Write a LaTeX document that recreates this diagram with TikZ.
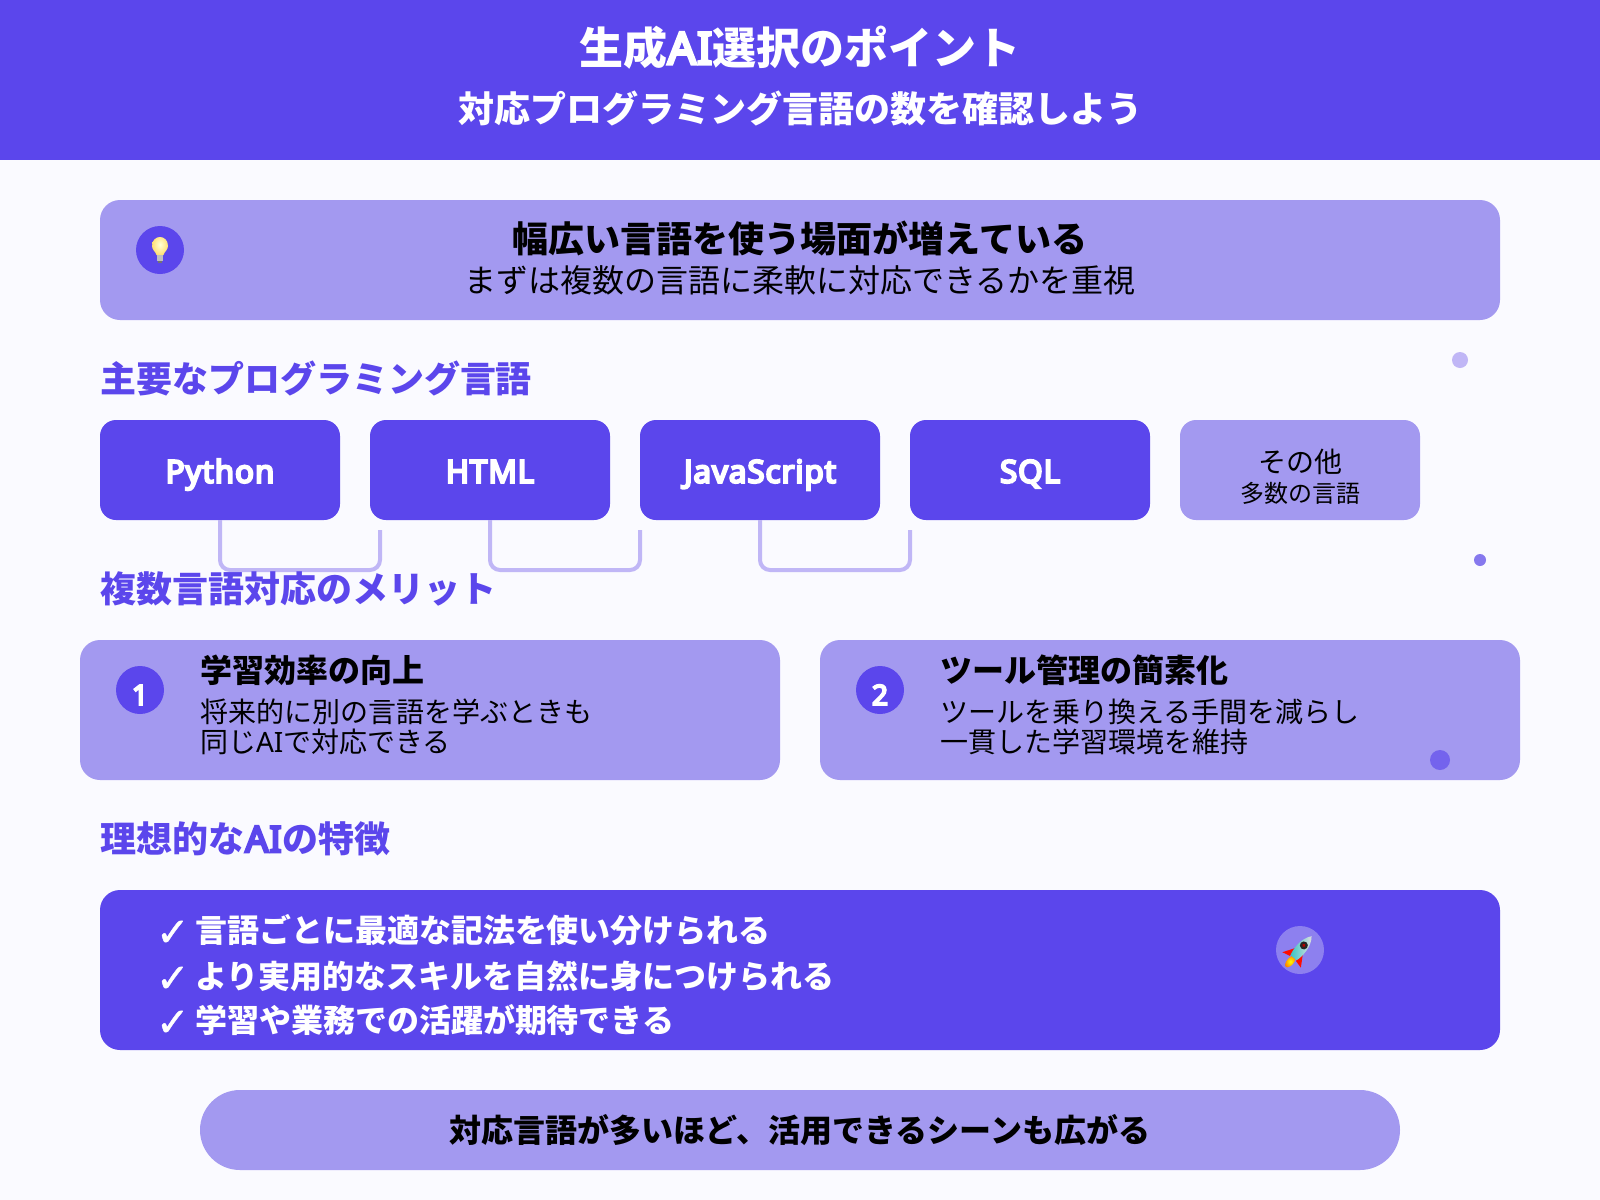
\documentclass[tikz,border=0pt]{standalone}
\usepackage{fontspec}
\setmainfont{Noto Sans CJK JP}
\newfontfamily\lat{Noto Sans}
\newfontfamily\latb[FakeBold=7,LetterSpace=3]{Noto Sans}
\newfontfamily\chk[FakeBold=1.0]{DejaVu Sans}
\usetikzlibrary{calc}
\definecolor{violet}{HTML}{5B46EC}
\definecolor{lilac}{HTML}{A399F0}
\definecolor{paper}{HTML}{FAFAFF}
\definecolor{wire}{HTML}{C0B6F6}
\newcommand{\fz}[1]{\fontsize{#1}{#1}\selectfont}
\newcommand{\tick}{\makebox[26.25pt][l]{\hspace*{-3pt}\raisebox{-3pt}{\fz{30}\mdseries\chk ✓}}}
\tikzset{
  x=0.75pt,y=-0.75pt,
  txt/.style={inner sep=0pt,outer sep=0pt},
  panel/.style={fill=lilac,rounded corners=15pt},
  darkpanel/.style={fill=violet,rounded corners=15pt},
  pill/.style={fill=lilac,rounded corners=30pt},
  chip/.style={fill=violet,rounded corners=12pt,inner sep=0pt,outer sep=0pt,minimum width=180pt,minimum height=75pt,text height=22pt,text depth=3pt,text=white,font=\latb\fz{23.5}},
  softchip/.style={fill=lilac,rounded corners=12pt,inner sep=0pt,outer sep=0pt,minimum width=180pt,minimum height=75pt},
  badge/.style={circle,fill=violet,inner sep=0pt,outer sep=0pt,minimum size=36pt,text height=24pt,text depth=1.5pt,text=white,font=\latb\fz{21}},
  heading/.style={txt,anchor=base west,text=violet,font=\fz{27}\bfseries},
  cardtitle/.style={txt,anchor=base west,font=\fz{24}\bfseries},
  cardbody/.style={txt,anchor=base west,font=\fz{21}},
  ticked/.style={txt,anchor=base west,text=white,font=\fz{24}\bfseries},
  dot/.style={circle,inner sep=0pt,outer sep=0pt,minimum size=#1},
  link/.style={draw=wire,line width=3pt,rounded corners=7.5pt}
}
\begin{document}
\begin{tikzpicture}
\useasboundingbox (0,0) rectangle (1600,1200);
\fill[paper] (0,0) rectangle (1600,1200);
% header
\fill[violet] (0,0) rectangle (1600,160);
\node[txt,text=white,font=\fz{33}\bfseries,anchor=base] (title) at (800,64) {生成{\kern.5pt\latb AI\kern.5pt}選択のポイント};
\node[txt,text=white,font=\fz{27}\bfseries,anchor=base] (subtitle) at (800,122) {対応プログラミング言語の数を確認しよう};
% top panel
\fill[panel] (100,200) rectangle (1500,320);
\node[badge] (tip) at (160,250) {};
\shade[inner color=white!85!yellow,outer color=yellow!55!orange!55!white] (152,246) .. controls (152,234) and (168,234) .. (168,246) .. controls (168,250) and (164,252) .. (163.5,255) -- (156.5,255) .. controls (156,252) and (152,250) .. (152,246) -- cycle;
\fill[gray!50] (157,255) rectangle (163,261);
\fill[gray!90!black] (158,261) rectangle (162,263);
\node[txt,font=\fz{27}\bfseries,anchor=base] (lead) at (800,252) {幅広い言語を使う場面が増えている};
\node[txt,font=\fz{24},anchor=base] (leadsub) at (800,292) {まずは複数の言語に柔軟に対応できるかを重視};
% languages
\node[heading] (h1) at (100,392) {主要なプログラミング言語};
\node[chip] (py) at (220,470) {Python};
\node[chip] (html) at (490,470) {HTML};
\node[chip] (js) at (760,470) {JavaScript};
\node[chip] (sql) at (1030,470) {SQL};
\node[softchip] (other) at (1300,470) {};
\node[txt,font=\fz{21},anchor=base] (other1) at (1300,472) {その他};
\node[txt,font=\fz{18},anchor=base] (other2) at (1300,502) {多数の言語};
\coordinate (e1) at (380,530);
\coordinate (e2) at (640,530);
\coordinate (e3) at (910,530);
\draw[link] (py.south) |- (380,570) -- (e1);
\draw[link] (html.south) |- (640,570) -- (e2);
\draw[link] (js.south) |- (910,570) -- (e3);
% dots
\node[dot=12pt,fill=wire] (d1) at (1460,360) {};
\node[dot=9pt,fill=lilac!60!violet] (d2) at (1480,560) {};
% merits
\node[heading] (h2) at (100,602) {複数言語対応のメリット};
\fill[panel] (80,640) rectangle (780,780);
\fill[panel] (820,640) rectangle (1520,780);
\node[badge] (n1) at (140,690) {1};
\node[badge] (n2) at (880,690) {2};
\node[cardtitle] (c1) at (200,682) {学習効率の向上};
\node[cardbody] (c1a) at (200,722) {将来的に別の言語を学ぶときも};
\node[cardbody] (c1b) at (200,752) {同じ{\lat AI}で対応できる};
\node[cardtitle] (c2) at (940,682) {ツール管理の簡素化};
\node[cardbody] (c2a) at (940,722) {ツールを乗り換える手間を減らし};
\node[cardbody] (c2b) at (940,752) {一貫した学習環境を維持};
\node[dot=15pt,fill=lilac!35!violet] (d3) at (1440,760) {};
% ideal
\node[heading] (h3) at (100,852) {理想的な{\kern1pt\latb AI\kern1pt}の特徴};
\fill[darkpanel] (100,890) rectangle (1500,1050);
\node[ticked] (t1) at (160,942) {\tick 言語ごとに最適な記法を使い分けられる};
\node[ticked] (t2) at (160,988) {\tick より実用的なスキルを自然に身につけられる};
\node[ticked] (t3) at (160,1032) {\tick 学習や業務での活躍が期待できる};
\node[badge,fill=lilac!70!violet] (rk) at (1300,950) {};
\begin{scope}[shift={(1300,950)},rotate=-40]
  \fill[red!90!orange] (-4,0) -- (-12,13) -- (-4,11) -- cycle;
  \fill[red!90!orange] (4,0) -- (12,13) -- (4,11) -- cycle;
  \shade[inner color=yellow,outer color=orange] (0,15) ellipse [x radius=3.5,y radius=7];
  \shade[left color=cyan!55!gray,right color=gray!25] (0,-18) .. controls (7,-10) and (6,4) .. (4,10) -- (-4,10) .. controls (-6,4) and (-7,-10) .. (0,-18);
  \fill[black!85] (0,-6) circle [radius=4];
  \fill[red!70!black] (0,-6) circle [radius=1.8];
\end{scope}
% footer
\fill[pill] (200,1090) rectangle (1400,1170);
\node[txt,font=\fz{24}\bfseries,anchor=base] (foot) at (800,1142) {対応言語が多いほど、活用できるシーンも広がる};
\end{tikzpicture}
\end{document}
